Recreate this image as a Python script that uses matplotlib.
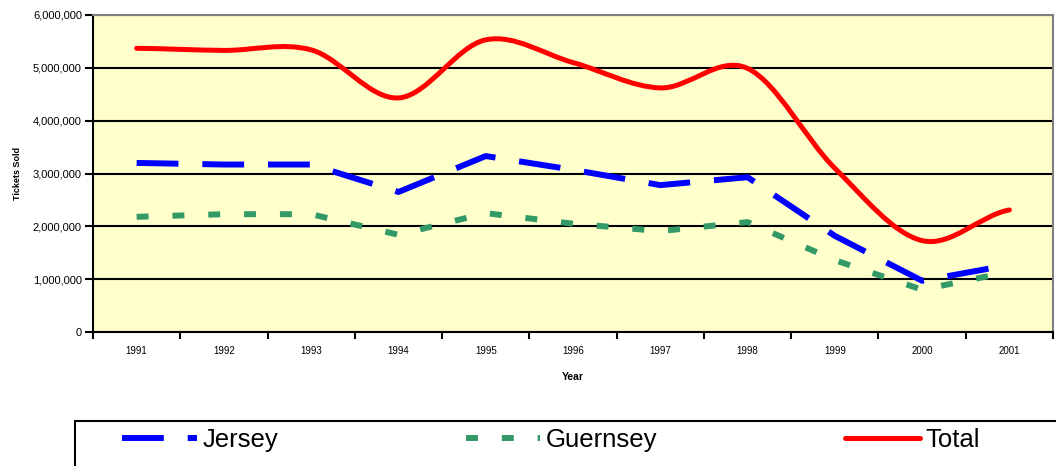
import matplotlib.pyplot as plt
import numpy as np
from matplotlib.path import Path
from matplotlib.patches import PathPatch, Rectangle
from matplotlib.ticker import FuncFormatter

plt.rcParams['font.family'] = ['Liberation Sans', 'DejaVu Sans']

years = ['1991', '1992', '1993', '1994', '1995', '1996', '1997', '1998', '1999', '2000', '2001']
jersey = [3.20, 3.17, 3.17, 2.65, 3.33, 3.07, 2.78, 2.93, 1.82, 0.97, 1.27]
guernsey = [2.18, 2.23, 2.23, 1.84, 2.25, 2.05, 1.91, 2.08, 1.36, 0.80, 1.14]
total = [5.37, 5.33, 5.34, 4.43, 5.53, 5.10, 4.62, 4.99, 3.10, 1.73, 2.31]


def smooth_path(xs, ys):
    # Excel style smoothed line: cubic bezier, catmull-rom control points
    n = len(xs)
    verts = [(xs[0], ys[0])]
    codes = [Path.MOVETO]
    for i in range(n - 1):
        y_prev = ys[i - 1] if i > 0 else ys[i]
        y_next2 = ys[i + 2] if i + 2 < n else ys[i + 1]
        c1 = (xs[i] + 1 / 3, ys[i] + (ys[i + 1] - y_prev) / 6)
        c2 = (xs[i + 1] - 1 / 3, ys[i + 1] - (y_next2 - ys[i]) / 6)
        verts += [c1, c2, (xs[i + 1], ys[i + 1])]
        codes += [Path.CURVE4] * 3
    return Path(verts, codes)


x = np.arange(len(years))
scale = 1e6

fig = plt.figure(figsize=(10.56, 4.66), dpi=100)
ax = fig.add_axes([93 / 1056, 1 - 332 / 466, 960 / 1056, 317 / 466])
ax.set_facecolor('#FFFFCC')

jl, = ax.plot(x, np.array(jersey) * scale, color='#0000FF', lw=4.3,
              dashes=(7, 4), solid_capstyle='butt', dash_capstyle='butt', label='Jersey')
gl, = ax.plot(x, np.array(guernsey) * scale, color='#339966', lw=4.3,
              dashes=(2, 4), dash_capstyle='butt', label='Guernsey')
tp = smooth_path(x, np.array(total) * scale)
ax.add_patch(PathPatch(tp, fill=False, edgecolor='#FF0000', lw=3.6,
                       capstyle='round', joinstyle='round', zorder=3))
tl, = ax.plot([], [], color='#FF0000', lw=3.6, solid_capstyle='round', label='Total')

ax.set_xlim(-0.5, len(years) - 0.5)
ax.set_ylim(0, 6e6)
ax.set_yticks(np.arange(0, 6.01e6, 1e6))
ax.yaxis.set_major_formatter(FuncFormatter(lambda v, p: f'{int(v):,}'))
ax.grid(axis='y', color='black', lw=1.5)
ax.set_axisbelow(True)

ax.set_xticks(x)
ax.set_xticklabels(years)
ax.set_xticks(np.arange(-0.5, len(years)), minor=True)
ax.tick_params(axis='x', which='major', length=0, pad=10, labelsize=7)
ax.tick_params(axis='x', which='minor', length=5, width=1.5, direction='out')
ax.tick_params(axis='y', length=6, width=1.5, direction='out', pad=2, labelsize=8)

for side in ['left', 'bottom']:
    ax.spines[side].set_color('black')
    ax.spines[side].set_linewidth(1.5)
for side in ['top', 'right']:
    ax.spines[side].set_color('#808080')
    ax.spines[side].set_linewidth(1.5)

ax.set_xlabel('Year', fontsize=7.5, fontweight='bold', va='center')
ax.xaxis.set_label_coords(0.5, -(377 - 332) / 317)
ax.set_ylabel('Tickets Sold', fontsize=6.5, fontweight='bold', va='center')
ax.yaxis.set_label_coords(-(93 - 17) / 960, 0.5)

# legend box at the bottom
fig.add_artist(Rectangle((75 / 1056, -0.1), 1.0, 0.1 + (466 - 421) / 466,
                         transform=fig.transFigure, facecolor='white',
                         edgecolor='black', lw=1.5, clip_on=False))
fig.legend(handles=[jl, gl, tl], loc='center left',
           bbox_to_anchor=(122 / 1056, 1 - 440 / 466), ncol=3, frameon=False,
           fontsize=18.5, handlelength=2.9, handletextpad=0.23, columnspacing=7.3,
           borderpad=0, borderaxespad=0)

fig.savefig('out.png', dpi=100)
